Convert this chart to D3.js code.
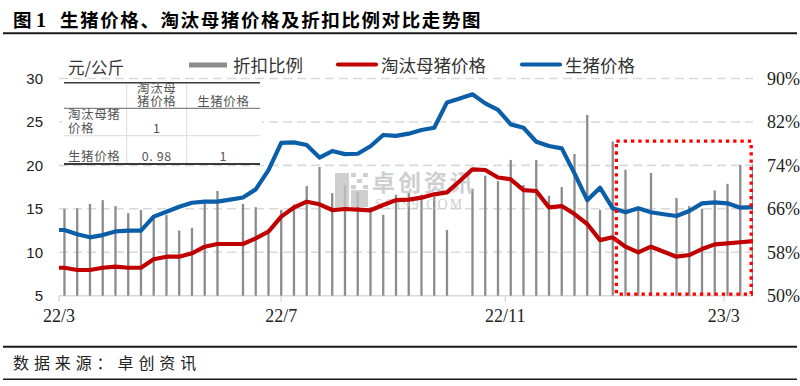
<!DOCTYPE html>
<html>
<head>
<meta charset="utf-8">
<script src="https://cdn.jsdelivr.net/npm/d3@7"></script>
<style>
  body { margin: 0; background: #fff; }
  svg { display: block; }
</style>
</head>
<body>
<svg id="chart" width="800" height="386"></svg>
<script>
'use strict';

// weekly series, first week sits just left of the axis start and is clipped
const WEEK_START = '2022-02-25';
const WEEK_COUNT = 56;

let hogPrice = [12.56, 12.56, 12.07, 11.72, 11.98, 12.4, 12.48, 12.48, 14.1, 14.67,
  15.24, 15.7, 15.82, 15.82, 16.05, 16.3, 17.24, 19.46, 22.6, 22.65,
  22.34, 20.9, 21.65, 21.3, 21.34, 22.2, 23.5, 23.4, 23.65, 24.07,
  24.33, 27.25, 27.7, 28.18, 27.14, 26.4, 24.72, 24.33, 22.72, 22.23,
  21.96, 19.08, 16.0, 17.43, 15.06, 14.6, 15.06, 14.6, 14.37, 14.17,
  14.75, 15.63, 15.75, 15.63, 15.13, 15.2];

let sowPrice = [8.22, 8.22, 7.96, 7.96, 8.22, 8.34, 8.22, 8.22, 9.19, 9.49,
  9.49, 9.88, 10.64, 10.95, 10.95, 10.95, 11.6, 12.37, 14.1, 15.15,
  15.82, 15.52, 14.86, 14.98, 14.9, 14.83, 15.44, 16.0, 16.05, 16.28,
  16.67, 16.9, 18.2, 19.55, 19.47, 18.6, 18.4, 17.16, 17.05, 15.17,
  15.32, 14.4, 13.25, 11.4, 11.72, 10.64, 9.99, 10.64, 10.06, 9.49,
  9.68, 10.37, 10.91, 11.03, 11.15, 11.29];

let discountRatio = [null, 66.0, 66.1, 66.9, 67.6, 66.5, 65.2, 65.8, 64.9, 64.9,
  62.0, 62.5, 67.0, 69.3, null, 66.9, 66.3, 61.5, 65.8, 66.8,
  70.2, 73.7, 68.9, 70.4, 69.1, 66.3, 64.9, 68.6, 68.9, 68.6,
  68.2, 62.1, null, 69.7, 72.1, 71.1, 75.0, 70.4, 75.0, 68.4,
  70.0, 76.1, 83.3, 65.8, 78.4, 73.2, 65.8, 72.6, null, 68.0,
  66.5, 66.0, 69.4, 70.6, 74.1, 74.2];

let leftTicks = [5, 10, 15, 20, 25, 30];
let rightTicks = [50, 58, 66, 74, 82, 90];
let monthTicks = ['2022-03-01', '2022-07-01', '2022-11-01', '2023-03-01'];

let corrColumns = [[], ['淘汰母', '猪价格'], ['生猪价格']];
let corrRows = [
  [['淘汰母猪', '价格'], ['1'], []],
  [['生猪价格'], ['0. 98'], ['1']]
];

let highlight = { from: '2023-01-01', to: '2023-03-16', top: 22.8 };

const BLUE = '#0b5ea8';
const RED = '#c00000';
const GREY = '#8c8c8c';
const GRID = '#d9d9d9';
const CJK = '"Noto Sans CJK SC", sans-serif';

let parse = d3.utcParse('%Y-%m-%d');
let weeks = d3.range(WEEK_COUNT).map(function(i) {
  return d3.utcDay.offset(parse(WEEK_START), 7 * i);
});

let x = d3.scaleUtc()
  .domain([parse('2022-03-01'), parse('2023-03-17')])
  .range([59, 753]);
let yL = d3.scaleLinear().domain([5, 30]).range([295.7, 78.5]);
let yR = d3.scaleLinear().domain([50, 90]).range([295.7, 78.5]);

let svg = d3.select('#chart');

svg.append('defs').append('clipPath')
    .attr('id', 'plot-clip')
  .append('rect')
    .attr('x', 59).attr('y', 0)
    .attr('width', 694).attr('height', 386);

// title and footer rules
svg.append('text')
    .attr('x', 13).attr('y', 27)
    .attr('font-family', CJK).attr('font-weight', 700).attr('font-size', 18.5)
    .text('图');
svg.append('text')
    .attr('x', 36).attr('y', 27)
    .attr('font-family', '"Liberation Serif", serif').attr('font-weight', 700)
    .attr('font-size', 20)
    .text('1');
svg.append('text')
    .attr('x', 60).attr('y', 27)
    .attr('font-family', CJK).attr('font-weight', 700).attr('font-size', 18.5)
    .attr('letter-spacing', 1.6)
    .text('生猪价格、淘汰母猪价格及折扣比例对比走势图');

[[33.3, 2], [346.7, 2], [379.3, 1.6]].forEach(function(r) {
  svg.append('line')
      .attr('x1', 3).attr('x2', 797)
      .attr('y1', r[0]).attr('y2', r[0])
      .attr('stroke', '#1a1a1a').attr('stroke-width', r[1]);
});

svg.append('text')
    .attr('x', 13).attr('y', 369)
    .attr('font-family', CJK).attr('font-size', 16)
    .attr('letter-spacing', 4.9).attr('fill', '#222')
    .text('数据来源：卓创资讯');

// grid
svg.append('g')
  .selectAll('line')
  .data(leftTicks.slice(1))
  .enter().append('line')
    .attr('x1', 59).attr('x2', 753)
    .attr('y1', function(d) { return yL(d); })
    .attr('y2', function(d) { return yL(d); })
    .attr('stroke', GRID).attr('stroke-width', 1.6)
    .attr('stroke-dasharray', '9,5');

svg.append('line')
    .attr('x1', 59).attr('x2', 753)
    .attr('y1', yL(5)).attr('y2', yL(5))
    .attr('stroke', GRID).attr('stroke-width', 1.6);

svg.append('g')
  .selectAll('line')
  .data(monthTicks)
  .enter().append('line')
    .attr('x1', function(d) { return x(parse(d)); })
    .attr('x2', function(d) { return x(parse(d)); })
    .attr('y1', yL(5)).attr('y2', yL(5) + 6)
    .attr('stroke', GRID).attr('stroke-width', 1.4);

// discount ratio bars
svg.append('g')
    .attr('clip-path', 'url(#plot-clip)')
  .selectAll('rect')
  .data(weeks.map(function(w, i) { return { date: w, value: discountRatio[i] }; })
    .filter(function(d) { return d.value != null; }))
  .enter().append('rect')
    .attr('x', function(d) { return x(d.date) - 1.15; })
    .attr('width', 2.3)
    .attr('y', function(d) { return yR(d.value); })
    .attr('height', function(d) { return yR(50) - yR(d.value); })
    .attr('fill', GREY);

// watermark
let wm = svg.append('g').attr('opacity', 0.8).attr('fill', '#c4c4c4');
wm.append('rect').attr('x', 335).attr('y', 173).attr('width', 14).attr('height', 34);
wm.append('rect').attr('x', 351).attr('y', 190).attr('width', 17).attr('height', 17);
[[351, 173], [363, 173], [357, 179], [351, 185], [363, 185]].forEach(function(p) {
  wm.append('rect').attr('x', p[0]).attr('y', p[1]).attr('width', 5).attr('height', 4);
});
wm.append('text')
    .attr('x', 372).attr('y', 191)
    .attr('font-family', CJK).attr('font-weight', 700).attr('font-size', 23)
    .attr('letter-spacing', 3)
    .text('卓创资讯');
wm.append('text')
    .attr('x', 375).attr('y', 209)
    .attr('font-family', '"Liberation Serif", serif').attr('font-size', 14)
    .attr('letter-spacing', 2)
    .text('SCI99.COM');

// price lines
let line = d3.line()
  .defined(function(d) { return d.value != null; })
  .x(function(d) { return x(d.date); })
  .y(function(d) { return yL(d.value); });

[[sowPrice, RED], [hogPrice, BLUE]].forEach(function(s) {
  svg.append('path')
      .attr('clip-path', 'url(#plot-clip)')
      .datum(weeks.map(function(w, i) { return { date: w, value: s[0][i] }; }))
      .attr('d', line)
      .attr('fill', 'none')
      .attr('stroke', s[1])
      .attr('stroke-width', 4.2)
      .attr('stroke-linejoin', 'round');
});

// axes labels
svg.append('g')
  .selectAll('text')
  .data(leftTicks)
  .enter().append('text')
    .attr('x', 43)
    .attr('y', function(d) { return yL(d); })
    .attr('dy', '0.36em')
    .attr('text-anchor', 'end')
    .attr('font-family', '"Liberation Sans", sans-serif').attr('font-size', 15)
    .attr('fill', '#222')
    .text(function(d) { return d; });

svg.append('g')
  .selectAll('text')
  .data(rightTicks)
  .enter().append('text')
    .attr('x', 767)
    .attr('y', function(d) { return yR(d); })
    .attr('dy', '0.36em')
    .attr('font-family', '"Liberation Serif", serif').attr('font-size', 18)
    .attr('fill', '#222')
    .text(function(d) { return d + '%'; });

let monthFmt = d3.utcFormat('%y/%-m');
svg.append('g')
  .selectAll('text')
  .data(monthTicks)
  .enter().append('text')
    .attr('x', function(d) { return x(parse(d)); })
    .attr('y', 322)
    .attr('text-anchor', 'middle')
    .attr('font-family', '"Liberation Serif", serif').attr('font-size', 18)
    .attr('fill', '#222')
    .text(function(d) { return monthFmt(parse(d)); });

svg.append('text')
    .attr('x', 68).attr('y', 73.5)
    .attr('font-family', CJK).attr('font-size', 16.5)
    .attr('fill', '#333')
    .text('元/公斤');

// legend
let legend = svg.append('g')
  .attr('font-family', CJK).attr('font-size', 17.5).attr('fill', '#333');
legend.append('rect')
    .attr('x', 189).attr('y', 62.5).attr('width', 38).attr('height', 5)
    .attr('fill', GREY);
legend.append('text').attr('x', 233).attr('y', 71.5).text('折扣比例');
legend.append('line')
    .attr('x1', 338).attr('x2', 376).attr('y1', 64.5).attr('y2', 64.5)
    .attr('stroke', RED).attr('stroke-width', 4.2).attr('stroke-linecap', 'round');
legend.append('text').attr('x', 381).attr('y', 71.5).text('淘汰母猪价格');
legend.append('line')
    .attr('x1', 522).attr('x2', 560).attr('y1', 64.5).attr('y2', 64.5)
    .attr('stroke', BLUE).attr('stroke-width', 4.2).attr('stroke-linecap', 'round');
legend.append('text').attr('x', 565).attr('y', 71.5).text('生猪价格');

// correlation table
let colX = [64, 126.7, 186.7, 260];
let rowY = [82.7, 108.3, 135.7, 164];
let table = svg.append('g');
table.append('rect')
    .attr('x', 62).attr('y', 81).attr('width', 200).attr('height', 84)
    .attr('fill', '#fff');
[1, 2].forEach(function(c) {
  table.append('line')
      .attr('x1', colX[c]).attr('x2', colX[c])
      .attr('y1', rowY[0]).attr('y2', rowY[3])
      .attr('stroke', '#dcdcdc').attr('stroke-width', 1);
});
[[rowY[0], '#3a3a3a', 1.5], [rowY[1], '#666', 1], [rowY[2], '#dcdcdc', 1], [rowY[3], '#3a3a3a', 2]]
  .forEach(function(r) {
    table.append('line')
        .attr('x1', colX[0]).attr('x2', colX[3])
        .attr('y1', r[0]).attr('y2', r[0])
        .attr('stroke', r[1]).attr('stroke-width', r[2]);
  });

// one text per cell, wrapped lines as tspans
function cell(lines, col, bottomY) {
  if (!lines.length) return;
  let left = col === 0;
  let cx = left ? 68 : (colX[col] + colX[col + 1]) / 2;
  let t = table.append('text')
      .attr('text-anchor', left ? 'start' : 'middle')
      .attr('font-family', CJK).attr('font-size', 12.5)
      .attr('letter-spacing', 0.6)
      .attr('fill', '#555');
  lines.forEach(function(s, k) {
    t.append('tspan')
        .attr('x', cx)
        .attr('y', bottomY - (lines.length - 1 - k) * 13.4 + 4.5)
        .text(s);
  });
}

corrColumns.forEach(function(lines, c) { cell(lines, c, 101.7); });
corrRows[0].forEach(function(lines, c) { cell(lines, c, 128.3); });
corrRows[1].forEach(function(lines, c) { cell(lines, c, 156.7); });

// highlighted period
svg.append('rect')
    .attr('x', x(parse(highlight.from)))
    .attr('y', yL(highlight.top))
    .attr('width', x(parse(highlight.to)) - x(parse(highlight.from)))
    .attr('height', yL(5) - yL(highlight.top) - 1.6)
    .attr('fill', 'none')
    .attr('stroke', '#ff0000')
    .attr('stroke-width', 3.3)
    .attr('stroke-dasharray', '3.3,4');
</script>
</body>
</html>
